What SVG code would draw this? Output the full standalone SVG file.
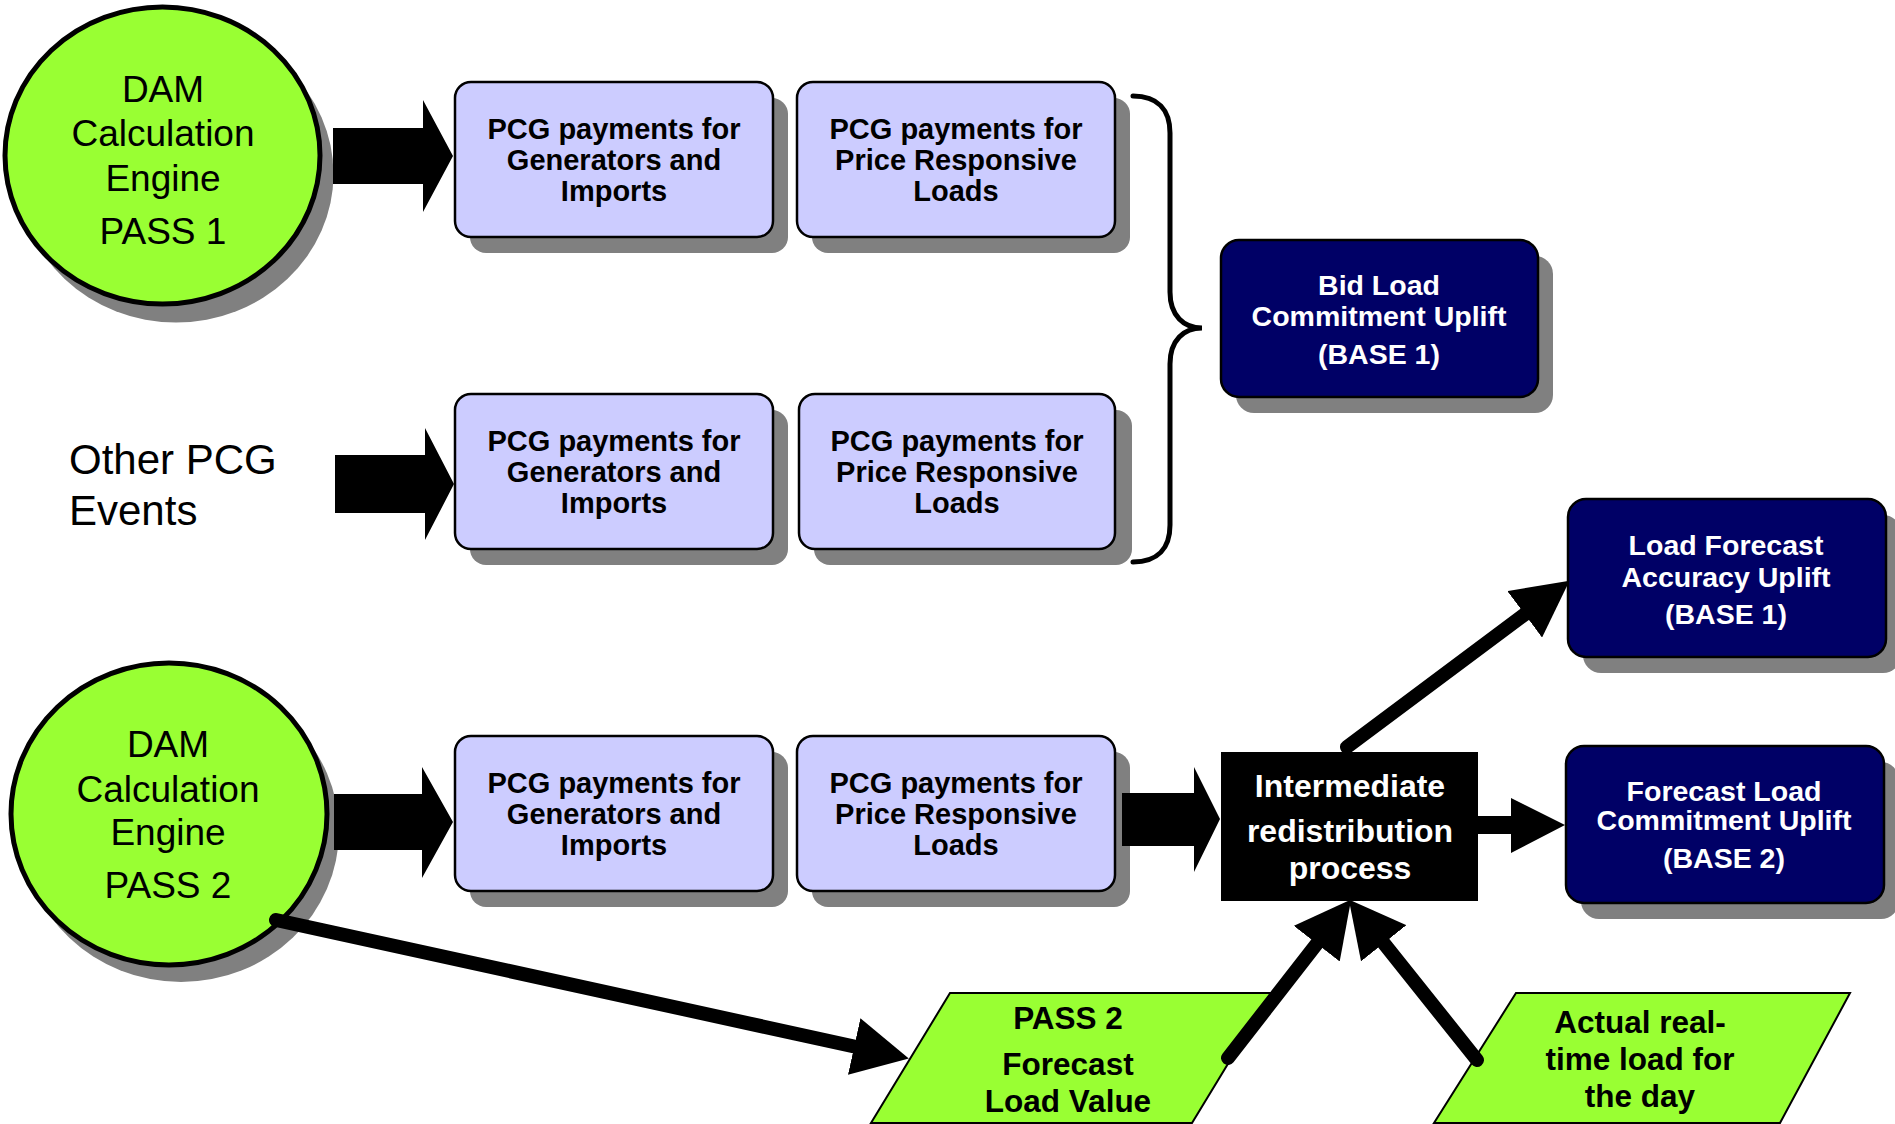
<svg xmlns="http://www.w3.org/2000/svg" width="1895" height="1124" viewBox="0 0 1895 1124">
  <style>
    text { font-family: "Liberation Sans", Arial, sans-serif; text-anchor: middle; }
    .shadow { fill: #808080; }
    .engine { fill: #99ff33; stroke: #000; stroke-width: 5; }
    .pcg { fill: #ccccff; stroke: #000; stroke-width: 2.5; }
    .pcg-t { font-size: 29px; font-weight: bold; fill: #000; }
    .uplift { fill: #000066; stroke: #000; stroke-width: 2.5; }
    .uplift-t { font-size: 28.5px; font-weight: bold; fill: #fff; }
    .engine-t { font-size: 37px; fill: #000; }
    .proc { fill: #000; }
    .proc-t { font-size: 32px; font-weight: bold; fill: #fff; }
    .data { fill: #99ff33; stroke: #000; stroke-width: 2; }
    .data-t { font-size: 31.5px; font-weight: bold; fill: #000; }
    .other-t { font-size: 42px; fill: #000; text-anchor: start; }
    .block { fill: #000; }
    .line { stroke: #000; stroke-width: 14; stroke-linecap: round; fill: none; marker-end: url(#head); }
    .brace { stroke: #000; stroke-width: 5; fill: none; stroke-linecap: round; }
  </style>
  <defs>
    <marker id="head" markerUnits="userSpaceOnUse" markerWidth="56" markerHeight="58" viewBox="0 0 54 56" refX="0" refY="28" orient="auto">
      <path d="M0,0 L54,28 L0,56 Z" fill="#000"/>
    </marker>
  </defs>

  <rect width="1895" height="1124" fill="#fff"/>

  <!-- DAM engine, pass 1 -->
  <g id="engine-pass1">
    <ellipse class="shadow" cx="176" cy="174" rx="157.5" ry="148.5"/>
    <ellipse class="engine" cx="162.5" cy="155.5" rx="157.5" ry="148.5"/>
    <text class="engine-t" x="163" y="102">DAM</text>
    <text class="engine-t" x="163" y="146">Calculation</text>
    <text class="engine-t" x="163" y="191">Engine</text>
    <text class="engine-t" x="163" y="244">PASS 1</text>
  </g>

  <!-- DAM engine, pass 2 -->
  <g id="engine-pass2">
    <ellipse class="shadow" cx="181" cy="831" rx="158" ry="151"/>
    <ellipse class="engine" cx="169" cy="814" rx="158" ry="151"/>
    <text class="engine-t" x="168" y="757">DAM</text>
    <text class="engine-t" x="168" y="802">Calculation</text>
    <text class="engine-t" x="168" y="845">Engine</text>
    <text class="engine-t" x="168" y="898">PASS 2</text>
  </g>

  <!-- other events label -->
  <g id="other-events">
    <text class="other-t" x="69" y="474">Other PCG</text>
    <text class="other-t" x="69" y="525">Events</text>
  </g>

  <!-- PCG payment boxes, row 1 -->
  <g id="gen-row1">
    <rect class="shadow" x="470" y="98" width="318" height="155" rx="16"/>
    <rect class="pcg" x="455" y="82" width="318" height="155" rx="16"/>
    <text class="pcg-t" x="614" y="139">PCG payments for</text>
    <text class="pcg-t" x="614" y="170">Generators and</text>
    <text class="pcg-t" x="614" y="201">Imports</text>
  </g>
  <g id="prl-row1">
    <rect class="shadow" x="812" y="98" width="318" height="155" rx="16"/>
    <rect class="pcg" x="797" y="82" width="318" height="155" rx="16"/>
    <text class="pcg-t" x="956" y="139">PCG payments for</text>
    <text class="pcg-t" x="956" y="170">Price Responsive</text>
    <text class="pcg-t" x="956" y="201">Loads</text>
  </g>

  <!-- PCG payment boxes, row 2 -->
  <g id="gen-row2">
    <rect class="shadow" x="470" y="410" width="318" height="155" rx="16"/>
    <rect class="pcg" x="455" y="394" width="318" height="155" rx="16"/>
    <text class="pcg-t" x="614" y="451">PCG payments for</text>
    <text class="pcg-t" x="614" y="482">Generators and</text>
    <text class="pcg-t" x="614" y="513">Imports</text>
  </g>
  <g id="prl-row2">
    <rect class="shadow" x="814" y="410" width="318" height="155" rx="16"/>
    <rect class="pcg" x="799" y="394" width="316" height="155" rx="16"/>
    <text class="pcg-t" x="957" y="451">PCG payments for</text>
    <text class="pcg-t" x="957" y="482">Price Responsive</text>
    <text class="pcg-t" x="957" y="513">Loads</text>
  </g>

  <!-- PCG payment boxes, row 3 -->
  <g id="gen-row3">
    <rect class="shadow" x="470" y="752" width="318" height="155" rx="16"/>
    <rect class="pcg" x="455" y="736" width="318" height="155" rx="16"/>
    <text class="pcg-t" x="614" y="793">PCG payments for</text>
    <text class="pcg-t" x="614" y="824">Generators and</text>
    <text class="pcg-t" x="614" y="855">Imports</text>
  </g>
  <g id="prl-row3">
    <rect class="shadow" x="812" y="752" width="318" height="155" rx="16"/>
    <rect class="pcg" x="797" y="736" width="318" height="155" rx="16"/>
    <text class="pcg-t" x="956" y="793">PCG payments for</text>
    <text class="pcg-t" x="956" y="824">Price Responsive</text>
    <text class="pcg-t" x="956" y="855">Loads</text>
  </g>

  <!-- uplift results -->
  <g id="bid-load-uplift">
    <rect class="shadow" x="1236" y="256" width="317" height="157" rx="18"/>
    <rect class="uplift" x="1221" y="240" width="317" height="157" rx="18"/>
    <text class="uplift-t" x="1379" y="295">Bid Load</text>
    <text class="uplift-t" x="1379" y="326">Commitment Uplift</text>
    <text class="uplift-t" x="1379" y="364">(BASE 1)</text>
  </g>
  <g id="lfa-uplift">
    <rect class="shadow" x="1583" y="515" width="318" height="158" rx="18"/>
    <rect class="uplift" x="1568" y="499" width="318" height="158" rx="18"/>
    <text class="uplift-t" x="1726" y="555">Load Forecast</text>
    <text class="uplift-t" x="1726" y="587">Accuracy Uplift</text>
    <text class="uplift-t" x="1726" y="624">(BASE 1)</text>
  </g>
  <g id="flc-uplift">
    <rect class="shadow" x="1581" y="762" width="318" height="157" rx="18"/>
    <rect class="uplift" x="1566" y="746" width="318" height="157" rx="18"/>
    <text class="uplift-t" x="1724" y="801">Forecast Load</text>
    <text class="uplift-t" x="1724" y="830">Commitment Uplift</text>
    <text class="uplift-t" x="1724" y="868">(BASE 2)</text>
  </g>

  <!-- redistribution step -->
  <g id="redistribution">
    <rect class="proc" x="1221" y="752" width="257" height="149"/>
    <text class="proc-t" x="1350" y="797">Intermediate</text>
    <text class="proc-t" x="1350" y="842">redistribution</text>
    <text class="proc-t" x="1350" y="879">process</text>
  </g>

  <!-- data inputs -->
  <g id="pass2-forecast">
    <polygon class="data" points="950,993 1271,993 1192,1123 871,1123"/>
    <text class="data-t" x="1068" y="1029">PASS 2</text>
    <text class="data-t" x="1068" y="1075">Forecast</text>
    <text class="data-t" x="1068" y="1112">Load Value</text>
  </g>
  <g id="actual-load">
    <polygon class="data" points="1516,993 1850,993 1780,1123 1434,1123"/>
    <text class="data-t" x="1640" y="1033">Actual real-</text>
    <text class="data-t" x="1640" y="1070">time load for</text>
    <text class="data-t" x="1640" y="1107">the day</text>
  </g>

  <!-- connectors -->
  <g id="connectors">
    <polygon class="block" points="333,128 423,128 423,100 453,156 423,212 423,184 333,184"/>
    <polygon class="block" points="335,455 425,455 425,428 454,484 425,540 425,513 335,513"/>
    <polygon class="block" points="334,794 422,794 422,767 453,822 422,878 422,850 334,850"/>
    <polygon class="block" points="1122,793 1194,793 1194,767 1220,819 1194,872 1194,846 1122,846"/>
    <polygon class="block" points="1478,816 1511,816 1511,798 1565,825 1511,853 1511,834 1478,834"/>
    <path class="brace" d="M1133,96 C1158,96 1170,110 1170,133 V292 C1170,316 1184,328 1202,328 C1184,328 1170,340 1170,364 V525 C1170,548 1158,562 1133,562"/>
    <line class="line" x1="1347" y1="747" x2="1524.7" y2="614.3"/>
    <line class="line" x1="276" y1="920" x2="854.2" y2="1046.5"/>
    <line class="line" x1="1228" y1="1058" x2="1316.8" y2="943.7"/>
    <line class="line" x1="1477" y1="1060" x2="1383.7" y2="943.2"/>
  </g>
</svg>
